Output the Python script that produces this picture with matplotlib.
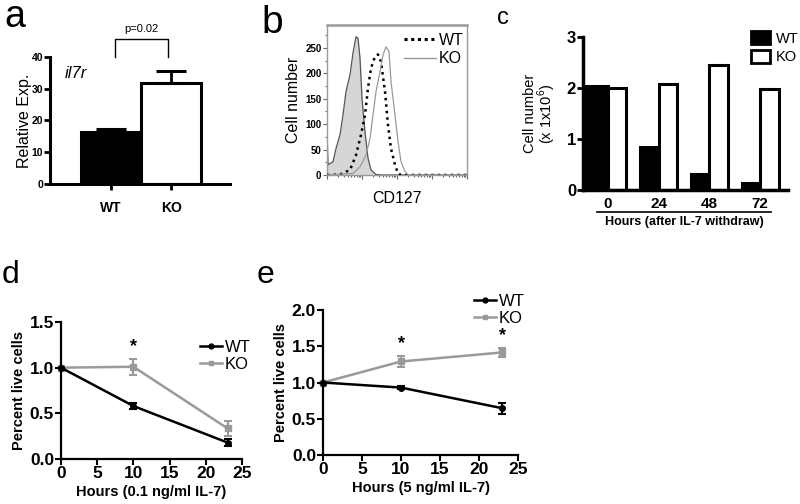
import numpy as np
import matplotlib.pyplot as plt
from matplotlib.patches import Patch
from matplotlib.lines import Line2D

plt.rcParams['font.family'] = ['Liberation Sans', 'DejaVu Sans']
plt.rcParams['mathtext.fontset'] = 'custom'
plt.rcParams['mathtext.rm'] = 'Liberation Sans'

# a: il7r relative expression
a_groups = ['WT', 'KO']
a_mean = [16.3, 31.7]
a_err = [0.9, 3.8]

# b: CD127 histograms (channel, cell number)
iso_x = [0, 1, 6, 9, 13, 16, 19, 23, 26, 29, 31, 33, 35, 38, 41, 44, 49, 56, 140]
iso_y = [90, 20, 26, 52, 79, 118, 164, 197, 240, 272, 269, 230, 151, 85, 33, 10, 1, 0, 0]
wt_x = [0, 13, 23, 29, 34, 38, 41, 44, 48, 51, 54, 58, 61, 64, 68, 71, 74, 140]
wt_y = [0, 1, 10, 39, 79, 118, 171, 210, 233, 237, 223, 164, 98, 52, 20, 3, 0, 0]
ko_x = [0, 26, 33, 39, 43, 46, 49, 53, 56, 59, 62, 64, 68, 71, 74, 78, 81, 140]
ko_y = [0, 3, 16, 39, 72, 118, 164, 203, 236, 252, 243, 184, 118, 66, 26, 7, 0, 0]

# c: cell number after IL-7 withdrawal
c_hours = ['0', '24', '48', '72']
c_wt = [2.03, 0.84, 0.32, 0.13]
c_ko = [2.0, 2.08, 2.46, 1.99]

# d: 0.1 ng/ml IL-7
d_hours = [0, 10, 23]
d_wt = [1.0, 0.58, 0.18]
d_wt_err = [0, 0.035, 0.035]
d_ko = [1.0, 1.01, 0.335]
d_ko_err = [0, 0.085, 0.085]
d_star = [10]

# e: 5 ng/ml IL-7
e_hours = [0, 10, 23]
e_wt = [1.0, 0.93, 0.645]
e_wt_err = [0, 0.015, 0.078]
e_ko = [1.0, 1.29, 1.415]
e_ko_err = [0, 0.07, 0.06]
e_star = [10, 23]

GRAY = '#9a9a9a'
W, H = 800, 504


def fx(px):
    return px / W


def fy(py):
    return 1 - py / H


fig = plt.figure(figsize=(8, 5.04), dpi=100)

# ---------- a ----------
ax = fig.add_axes([0.0625, 0.635, 0.225, 0.252])
xa = np.arange(len(a_groups))
ax.bar(xa, a_mean, width=1.0, color=['black', 'white'], edgecolor='black', linewidth=2.2, zorder=2)
ax.errorbar(xa, a_mean, yerr=[[0, 0], a_err], fmt='none', ecolor='black',
            elinewidth=2, capsize=11, capthick=2.2, zorder=3)
ax.set_xlim(-1.02, 1.98)
ax.set_ylim(0, 40)
for s in ['top', 'right']:
    ax.spines[s].set_visible(False)
for s in ['left', 'bottom']:
    ax.spines[s].set_linewidth(2.2)
ax.set_yticks([0, 10, 20, 30, 40])
ax.tick_params(axis='y', labelsize=7.5, width=2, length=4, pad=1)
ax.set_xticks(xa, a_groups, fontweight='bold', fontsize=10)
ax.tick_params(axis='x', width=2, length=4, pad=8)
for t in ax.get_yticklabels():
    t.set_fontweight('bold')
ax.set_ylabel('Relative Exp.', fontsize=11.5, labelpad=0)
ax.text(-0.77, 33.4, 'il7r', fontsize=12, style='italic', va='baseline')
ax.plot([0.07, 0.07, 0.95, 0.95], [40, 45.7, 45.7, 40], color='black', lw=1, clip_on=False)
ax.text(0.5, 47.3, 'p=0.02', fontsize=8, ha='center', va='bottom')

# ---------- b ----------
ax = fig.add_axes([0.40875, 0.6528, 0.175, 0.2976])
ax.fill_between(iso_x, iso_y, color='#d6d6d6', lw=0, zorder=1)
ax.plot(iso_x, iso_y, color='#555555', lw=0.9, zorder=2)
ax.plot(wt_x, wt_y, color='black', lw=1.8, linestyle=(0, (1, 1.6)), zorder=3)
ax.plot(ko_x, ko_y, color=GRAY, lw=0.9, zorder=3)
ax.set_xlim(0, 140)
ax.set_ylim(0, 295)
for s in ax.spines.values():
    s.set_color(GRAY)
    s.set_linewidth(1)
ax.spines['top'].set_linewidth(1.8)
dec = 35
ax.set_xticks([d * dec for d in range(5)])
ax.set_xticks([d * dec + dec * np.log10(k) for d in range(4) for k in range(2, 10)], minor=True)
ax.set_xticklabels([])
ax.set_yticks([0, 50, 100, 150, 200, 250])
ax.set_yticks([25, 75, 125, 175, 225, 275], minor=True)
ax.tick_params(which='both', color='#666666', width=0.8)
ax.tick_params(which='major', length=3)
ax.tick_params(which='minor', length=1.5)
ax.tick_params(axis='y', labelsize=7, pad=1)
for t in ax.get_yticklabels():
    t.set_fontweight('bold')
ax.set_ylabel('Cell number', fontsize=11.5, labelpad=3)
ax.set_xlabel('CD127', fontsize=11.5, labelpad=5)
hb = [Line2D([], [], color='black', lw=2.2, linestyle=(0, (1, 1.2))),
      Line2D([], [], color=GRAY, lw=1)]
fig.legend(hb, ['WT', 'KO'], loc='upper left', bbox_to_anchor=(fx(404), fy(33)),
           frameon=False, fontsize=11.5, handlelength=2.0, handletextpad=0.2,
           borderpad=0, borderaxespad=0, labelspacing=0.2)

# ---------- c ----------
ax = fig.add_axes([0.72875, 0.623, 0.25625, 0.3036])
g = np.arange(len(c_hours))
w = 0.365
xmin = -0.49
wt_w = np.full(len(g), w)
wt_w[0] = -xmin
ax.bar(g, c_wt, width=-wt_w, align='edge', color='black', edgecolor='black', linewidth=2.2)
ax.bar(g, c_ko, width=w, align='edge', color='white', edgecolor='black', linewidth=2.2)
ax.set_xlim(xmin, 3.55)
ax.set_ylim(0, 3)
for s in ['top', 'right']:
    ax.spines[s].set_visible(False)
for s in ['left', 'bottom']:
    ax.spines[s].set_linewidth(2.5)
ax.set_yticks([0, 1, 2, 3])
ax.tick_params(axis='y', labelsize=12, width=2, length=4, pad=1)
for t in ax.get_yticklabels():
    t.set_fontweight('bold')
ax.set_xticks(g, c_hours, fontweight='bold', fontsize=11)
ax.tick_params(axis='x', length=0, pad=5)
ax.set_ylabel('Cell number\n(x 1x10$^{\\mathrm{6}}$)', fontsize=10.5, linespacing=0.95, labelpad=6)
fig.add_artist(Line2D([fx(597), fx(771)], [fy(212), fy(212)], color='black', lw=1.2))
fig.text(fx(684), fy(222), 'Hours (after IL-7 withdraw)', ha='center', va='center',
         fontsize=9, fontweight='bold')
hc = [Patch(facecolor='black', edgecolor='black', lw=2),
      Patch(facecolor='white', edgecolor='black', lw=2)]
fig.legend(hc, ['WT', 'KO'], loc='upper left', bbox_to_anchor=(fx(751), fy(31)),
           frameon=False, fontsize=10.5, handlelength=1.3, handleheight=1.0,
           handletextpad=0.4, borderpad=0, borderaxespad=0, labelspacing=0.3)


# ---------- d, e ----------
def time_panel(rect, hours, wt, wt_err, ko, ko_err, stars, ymax, xlabel, leg_xy):
    ax = fig.add_axes(rect)
    ax.errorbar(hours, wt, yerr=wt_err, color='black', marker='o', ms=4, lw=1.8,
                elinewidth=1.5, capsize=3, capthick=1.5, clip_on=False, zorder=3)
    ax.errorbar(hours, ko, yerr=ko_err, color=GRAY, marker='s', ms=4, lw=1.8,
                elinewidth=1.5, capsize=3, capthick=1.5, clip_on=False, zorder=2)
    for h in stars:
        i = hours.index(h)
        ax.annotate('*', (h, ko[i] + ko_err[i]), xytext=(0, 3), textcoords='offset points',
                    ha='center', va='bottom', fontsize=13, fontweight='bold')
    ax.set_xlim(0, 25)
    ax.set_ylim(0, ymax)
    ax.set_xticks([0, 5, 10, 15, 20, 25])
    ax.set_yticks(np.arange(0, ymax + 0.01, 0.5))
    ax.yaxis.set_major_formatter('{x:.1f}')
    for s in ['top', 'right']:
        ax.spines[s].set_visible(False)
    for s in ['left', 'bottom']:
        ax.spines[s].set_linewidth(1.6)
    ax.tick_params(labelsize=12.5, width=1.5, length=4, pad=1)
    for t in ax.get_xticklabels() + ax.get_yticklabels():
        t.set_fontweight('bold')
    ax.set_xlabel(xlabel, fontsize=10.5, fontweight='bold', labelpad=3)
    ax.set_ylabel('Percent live cells', fontsize=10.5, fontweight='bold', labelpad=3)
    hl = [Line2D([], [], color='black', marker='o', ms=3.5, lw=1.8),
          Line2D([], [], color=GRAY, marker='s', ms=3.5, lw=1.8)]
    fig.legend(hl, ['WT', 'KO'], loc='upper left', bbox_to_anchor=leg_xy,
               frameon=False, fontsize=12, handlelength=1.3, handletextpad=0.2,
               borderpad=0, borderaxespad=0, labelspacing=0.1)


time_panel([0.07625, 0.0893, 0.22625, 0.2718], d_hours, d_wt, d_wt_err, d_ko, d_ko_err,
           d_star, 1.5, 'Hours (0.1 ng/ml IL-7)', (fx(200), fy(340)))
time_panel([0.40375, 0.0972, 0.24375, 0.2877], e_hours, e_wt, e_wt_err, e_ko, e_ko_err,
           e_star, 2.0, 'Hours (5 ng/ml IL-7)', (fx(474), fy(294)))

# panel letters
fig.text(fx(4), fy(27), 'a', fontsize=27, va='baseline')
fig.text(fx(261), fy(33), 'b', fontsize=28, va='baseline')
fig.text(fx(497), fy(24), 'c', fontsize=17, va='baseline')
fig.text(fx(2), fy(283), 'd', fontsize=23, va='baseline')
fig.text(fx(257), fy(283), 'e', fontsize=23, va='baseline')

fig.savefig('out.png', dpi=100)
